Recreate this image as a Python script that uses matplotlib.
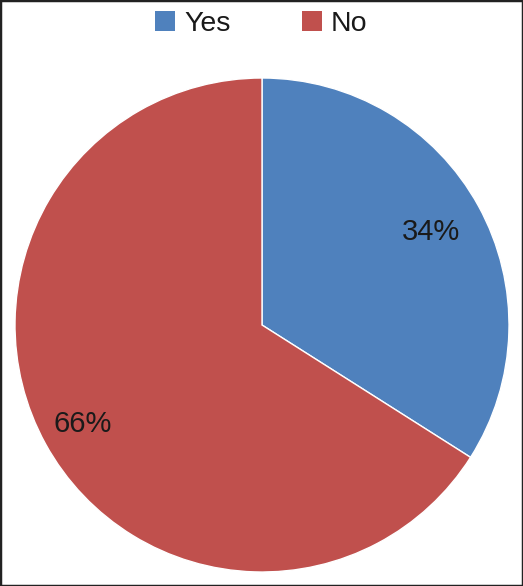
import numpy as np
import matplotlib.pyplot as plt
from matplotlib.patches import Rectangle, Patch

labels = ['Yes', 'No']
shares = [34, 66]
colors = ['#4F81BD', '#C0504D']

plt.rcParams['font.family'] = ['Liberation Sans', 'DejaVu Sans']

fig = plt.figure(figsize=(5.23, 5.86), dpi=100)
ax = fig.add_axes([15 / 523, 14 / 586, 494 / 523, 494 / 586])

wedges, texts, autotexts = ax.pie(
    shares, colors=colors, startangle=90, counterclock=False,
    autopct='%d%%', pctdistance=0.8, radius=1,
    wedgeprops=dict(edgecolor='white', linewidth=1),
    textprops=dict(fontsize=21, color='#1a1a1a'))

# nudge the percentage labels a bit, like the original
label_dist = [0.78, 0.83]
for w, t, d in zip(wedges, autotexts, label_dist):
    ang = np.deg2rad((w.theta1 + w.theta2) / 2)
    t.set_position((d * np.cos(ang), d * np.sin(ang)))

ax.set_xlim(-1.0, 1.0)
ax.set_ylim(-1.0, 1.0)
ax.set_aspect('equal')
ax.axis('off')

handles = [Patch(facecolor=c, edgecolor='none') for c in colors]
fig.legend(handles, labels, loc='center', bbox_to_anchor=(0.5, 1 - 24 / 586),
           ncol=2, frameon=False, fontsize=20.5, columnspacing=2.5,
           handlelength=0.7, handleheight=0.7, handletextpad=0.32,
           borderpad=0, labelcolor='#1a1a1a')

# thin dark border around the whole picture
fig.patches.append(Rectangle((0, 0), 1, 1, transform=fig.transFigure,
                             fill=False, edgecolor='#222222', linewidth=2.5))

fig.savefig('out.png', dpi=100)
